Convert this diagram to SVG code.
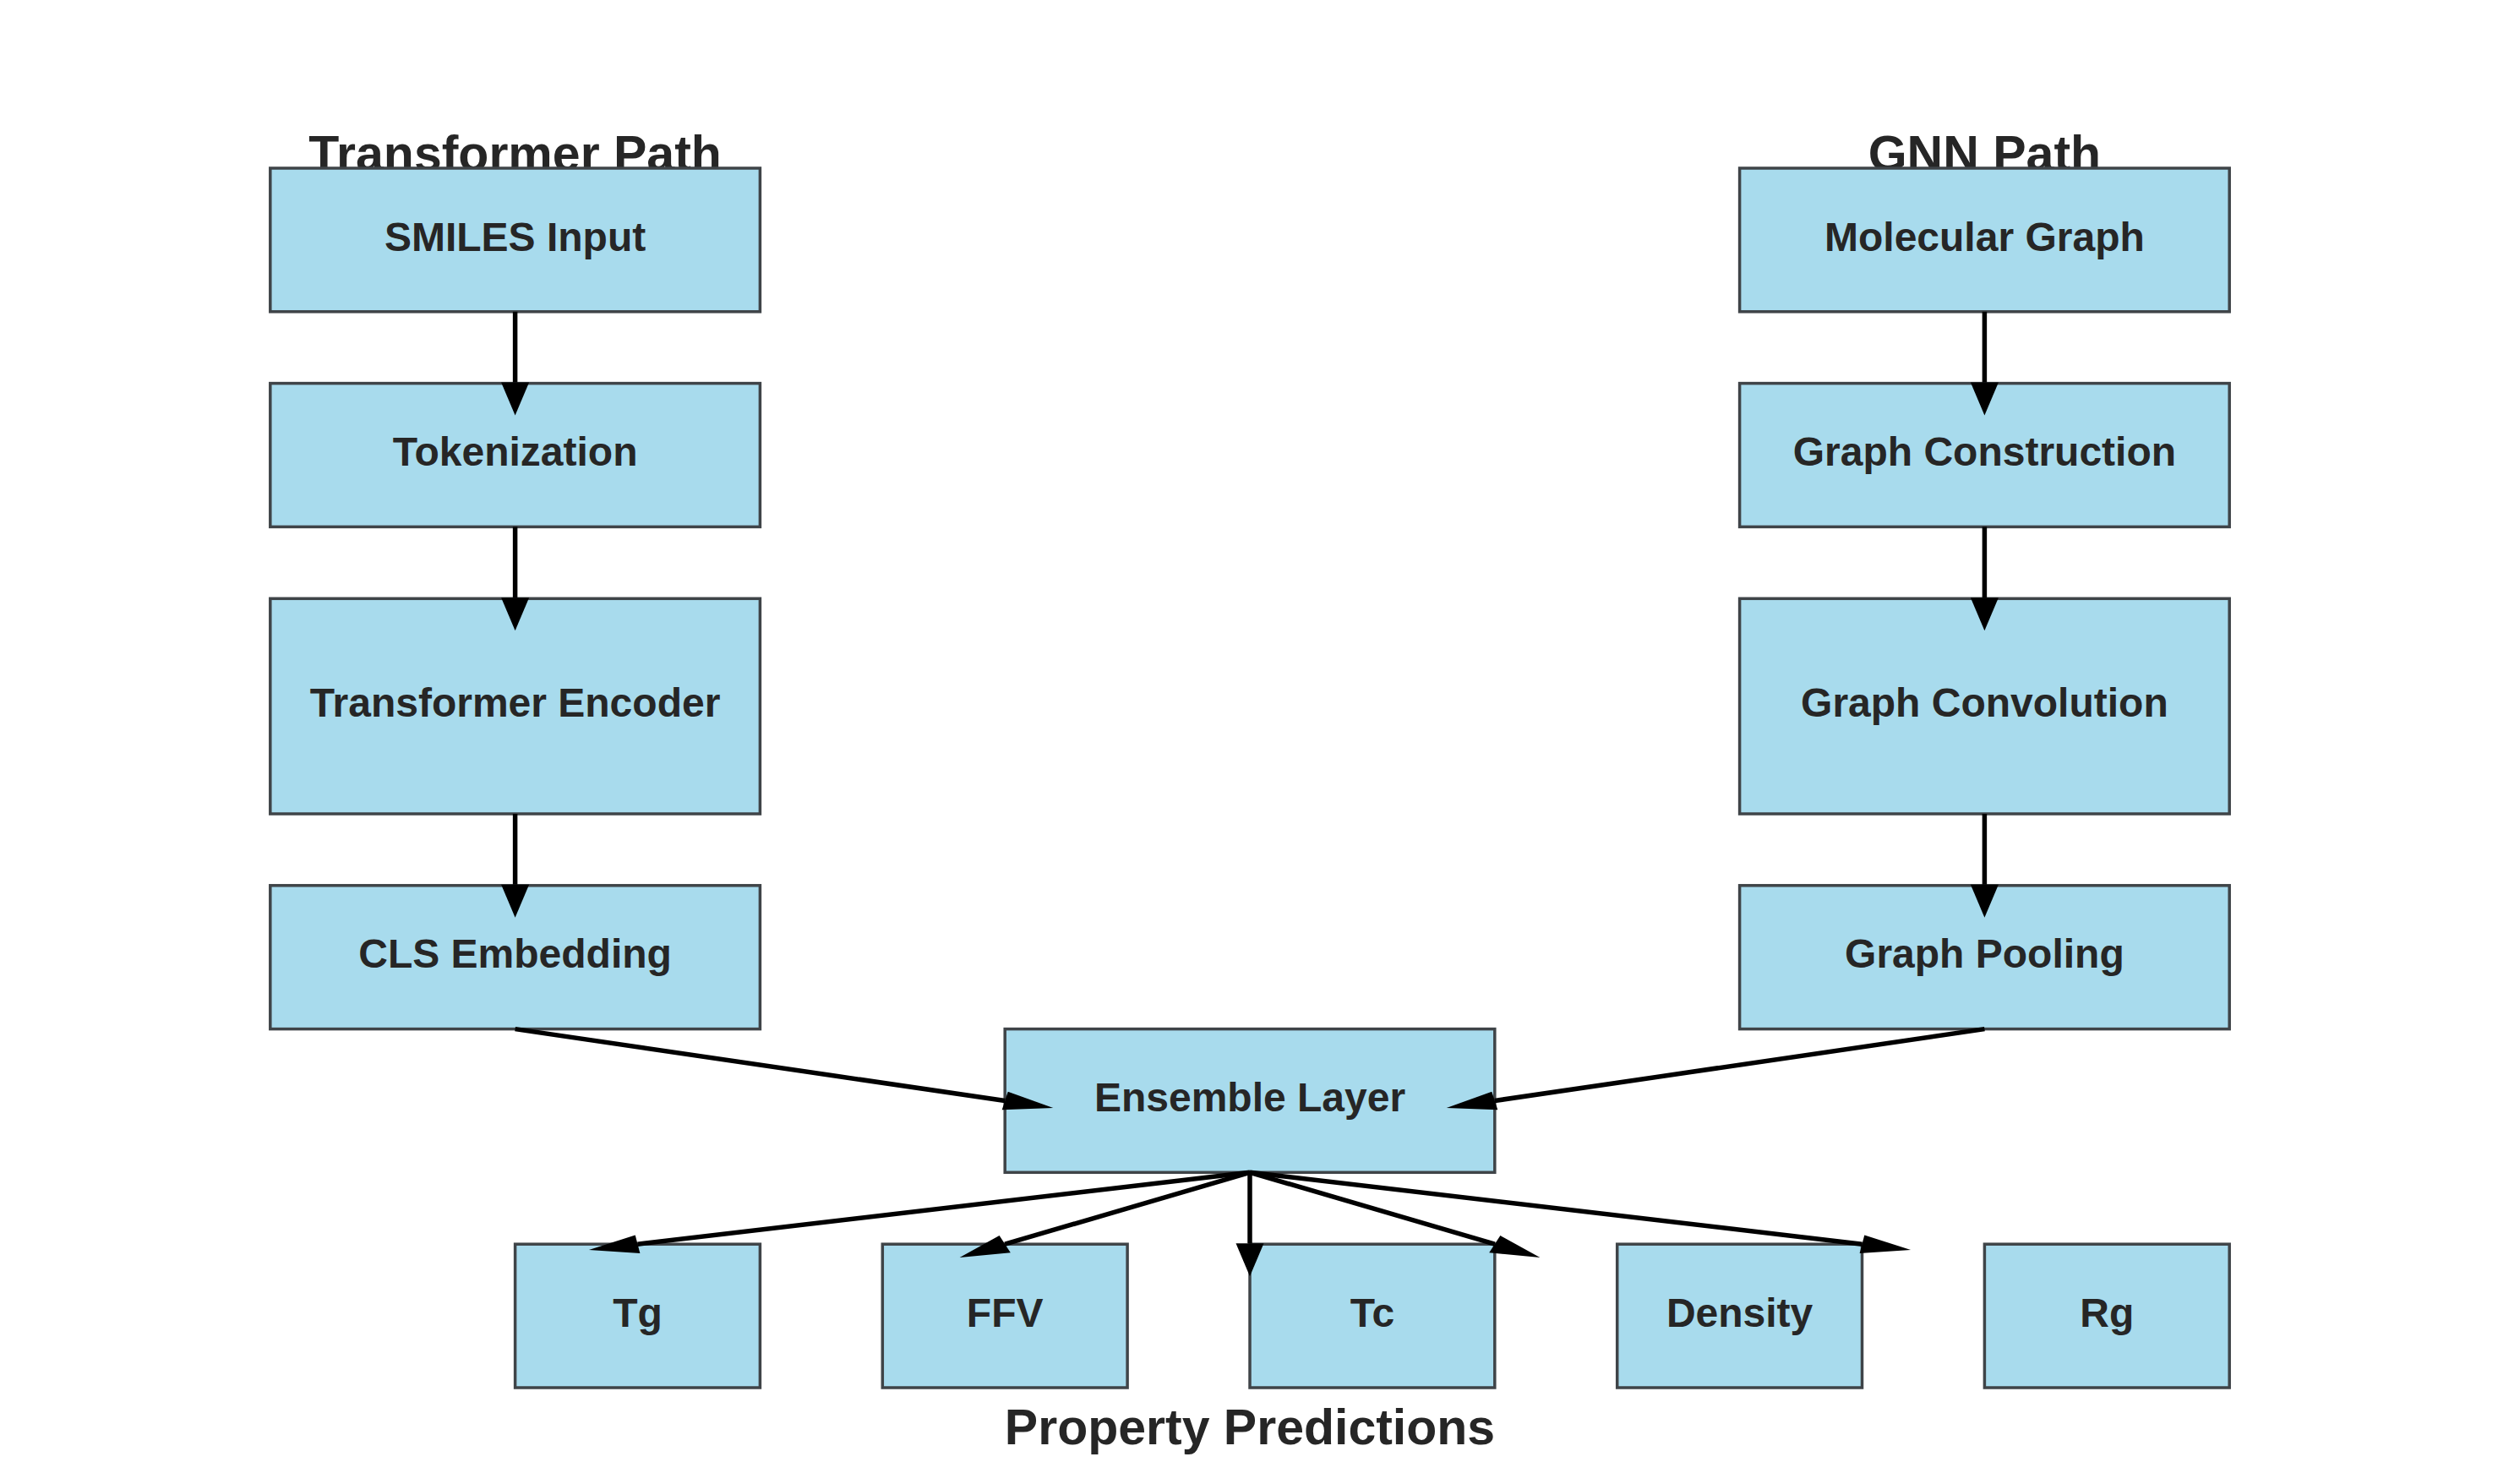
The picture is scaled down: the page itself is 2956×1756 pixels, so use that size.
<svg xmlns="http://www.w3.org/2000/svg" width="2956" height="1756" viewBox="0 0 2956 1756">
<style>
.box{fill:#a8dbed;stroke:#3f4448;stroke-width:3.5}
.lbl{font-family:"Liberation Sans",Arial,sans-serif;font-weight:bold;font-size:48px;fill:#262626;text-anchor:middle}
.ttl{font-family:"Liberation Sans",Arial,sans-serif;font-weight:bold;font-size:59px;fill:#262626;text-anchor:middle}
.ln{stroke:#000;stroke-width:5.5;fill:none}
.hd{fill:#000;stroke:none}
</style>
<rect width="2956" height="1756" fill="#fff"/>
<g id="titles">
<text class="ttl" x="609.6" y="201.5">Transformer Path</text>
<text class="ttl" x="2348.4" y="201.5">GNN Path</text>
<text class="ttl" x="1479" y="1709">Property Predictions</text>
</g>
<g id="smiles_input"><rect class="box" x="319.8" y="199" width="579.6" height="169.8"/><text class="lbl" x="609.6" y="296.5">SMILES Input</text></g>
<g id="tokenization"><rect class="box" x="319.8" y="453.6" width="579.6" height="169.8"/><text class="lbl" x="609.6" y="551">Tokenization</text></g>
<g id="transformer_encoder"><rect class="box" x="319.8" y="708.3" width="579.6" height="254.7"/><text class="lbl" x="609.6" y="848.2">Transformer Encoder</text></g>
<g id="cls_embedding"><rect class="box" x="319.8" y="1047.8" width="579.6" height="169.8"/><text class="lbl" x="609.6" y="1145.2">CLS Embedding</text></g>
<g id="molecular_graph"><rect class="box" x="2058.6" y="199" width="579.6" height="169.8"/><text class="lbl" x="2348.4" y="296.5">Molecular Graph</text></g>
<g id="graph_construction"><rect class="box" x="2058.6" y="453.6" width="579.6" height="169.8"/><text class="lbl" x="2348.4" y="551">Graph Construction</text></g>
<g id="graph_convolution"><rect class="box" x="2058.6" y="708.3" width="579.6" height="254.7"/><text class="lbl" x="2348.4" y="848.2">Graph Convolution</text></g>
<g id="graph_pooling"><rect class="box" x="2058.6" y="1047.8" width="579.6" height="169.8"/><text class="lbl" x="2348.4" y="1145.2">Graph Pooling</text></g>
<g id="ensemble_layer"><rect class="box" x="1189.2" y="1217.6" width="579.6" height="169.7"/><text class="lbl" x="1479" y="1315">Ensemble Layer</text></g>
<g id="tg"><rect class="box" x="609.6" y="1472.2" width="289.8" height="169.8"/><text class="lbl" x="754.5" y="1569.6">Tg</text></g>
<g id="ffv"><rect class="box" x="1044.3" y="1472.2" width="289.8" height="169.8"/><text class="lbl" x="1189.2" y="1569.6">FFV</text></g>
<g id="tc"><rect class="box" x="1479" y="1472.2" width="289.8" height="169.8"/><text class="lbl" x="1623.9" y="1569.6">Tc</text></g>
<g id="density"><rect class="box" x="1913.7" y="1472.2" width="289.8" height="169.8"/><text class="lbl" x="2058.6" y="1569.6">Density</text></g>
<g id="rg"><rect class="box" x="2348.4" y="1472.2" width="289.8" height="169.8"/><text class="lbl" x="2493.3" y="1569.6">Rg</text></g>
<g id="connectors">
<line class="ln" x1="609.6" y1="368.8" x2="609.6" y2="452.6"/><polygon class="hd" points="593.1,452.6 626.1,452.6 609.6,491.6"/>
<line class="ln" x1="609.6" y1="623.4" x2="609.6" y2="707.3"/><polygon class="hd" points="593.1,707.3 626.1,707.3 609.6,746.3"/>
<line class="ln" x1="609.6" y1="963" x2="609.6" y2="1046.8"/><polygon class="hd" points="593.1,1046.8 626.1,1046.8 609.6,1085.8"/>
<line class="ln" x1="2348.4" y1="368.8" x2="2348.4" y2="452.6"/><polygon class="hd" points="2331.9,452.6 2364.9,452.6 2348.4,491.6"/>
<line class="ln" x1="2348.4" y1="623.4" x2="2348.4" y2="707.3"/><polygon class="hd" points="2331.9,707.3 2364.9,707.3 2348.4,746.3"/>
<line class="ln" x1="2348.4" y1="963" x2="2348.4" y2="1046.8"/><polygon class="hd" points="2331.9,1046.8 2364.9,1046.8 2348.4,1085.8"/>
<line class="ln" x1="609.6" y1="1217.6" x2="1189.2" y2="1302.5"/><polygon class="hd" points="1185.7,1313.2 1192.7,1291.8 1246.3,1310.9"/>
<line class="ln" x1="2348.4" y1="1217.6" x2="1768.8" y2="1302.5"/><polygon class="hd" points="1765.3,1291.8 1772.3,1313.2 1711.7,1310.9"/>
<line class="ln" x1="1479" y1="1387.3" x2="754.5" y2="1472.2"/><polygon class="hd" points="751.7,1461.4 757.4,1483 696.9,1479"/>
<line class="ln" x1="1479" y1="1387.3" x2="1189.2" y2="1472.2"/><polygon class="hd" points="1182.6,1462.1 1195.8,1482.3 1135.6,1487.9"/>
<line class="ln" x1="1479" y1="1387.3" x2="1479" y2="1471.2"/><polygon class="hd" points="1462.5,1471.2 1495.5,1471.2 1479,1510.2"/>
<line class="ln" x1="1479" y1="1387.3" x2="1768.8" y2="1472.2"/><polygon class="hd" points="1762.2,1482.3 1775.4,1462.1 1822.4,1487.9"/>
<line class="ln" x1="1479" y1="1387.3" x2="2203.5" y2="1472.2"/><polygon class="hd" points="2200.6,1483 2206.3,1461.4 2261.1,1479"/>
</g>
</svg>
